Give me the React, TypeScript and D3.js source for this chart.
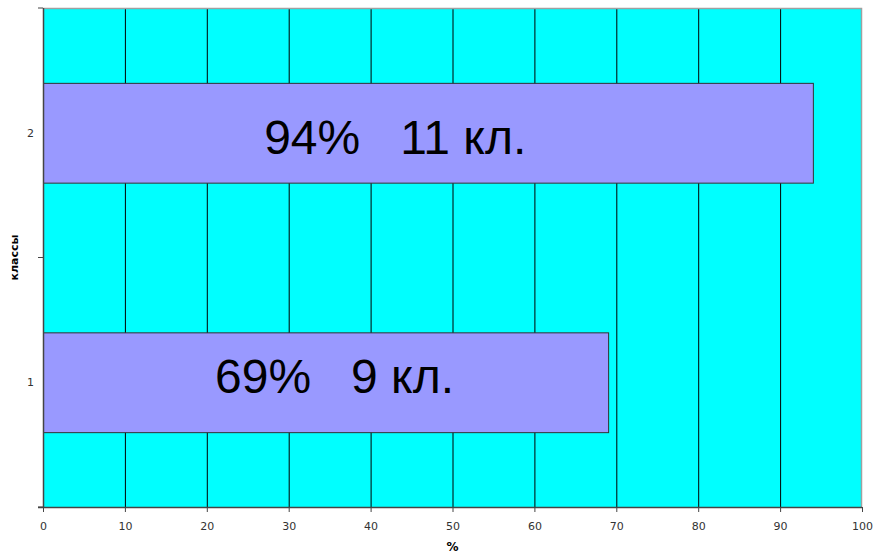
import React, { useEffect, useRef } from "react";
import * as d3 from "d3";

// categories (bottom to top) and their values in %
const categories = ["1", "2"];
const values = [69, 94];
const labels = ["69%   9 кл.", "94%   11 кл."];
const xTicks = [0, 10, 20, 30, 40, 50, 60, 70, 80, 90, 100];

const width = 873;
const height = 553;
const margin = { top: 8, right: 11, bottom: 46, left: 43 };

const App = (): JSX.Element => {
    const svgRef = useRef<SVGSVGElement>(null);

    useEffect(() => {
        const svg = d3.select(svgRef.current);
        svg.selectAll("*").remove();

        const innerW = width - margin.left - margin.right;
        const innerH = height - margin.top - margin.bottom;

        const x = d3.scaleLinear().domain([0, 100]).range([0, innerW]);
        const y = d3.scaleBand<string>()
            .domain(categories.slice().reverse())
            .range([0, innerH])
            .paddingInner(0.6)
            .paddingOuter(0.3);

        const g = svg.append("g")
            .attr("transform", `translate(${margin.left},${margin.top})`);

        // plot background
        g.append("rect")
            .attr("width", innerW)
            .attr("height", innerH)
            .attr("fill", "#00ffff");

        // vertical gridlines
        g.append("g")
            .selectAll("line")
            .data(xTicks.slice(1, -1))
            .join("line")
            .attr("x1", (d) => x(d) + 0.5)
            .attr("x2", (d) => x(d) + 0.5)
            .attr("y1", 0)
            .attr("y2", innerH)
            .attr("stroke", "#000")
            .attr("stroke-width", 1);

        // top / right frame
        g.append("path")
            .attr("d", `M0,0.5H${innerW - 0.5}V${innerH}`)
            .attr("fill", "none")
            .attr("stroke", "#a0a0a0")
            .attr("stroke-width", 1.5);

        // bars
        g.append("g")
            .selectAll("rect")
            .data(values)
            .join("rect")
            .attr("x", 0.5)
            .attr("y", (_, i) => (y(categories[i]) ?? 0) + 0.5)
            .attr("width", (d) => x(d))
            .attr("height", y.bandwidth())
            .attr("fill", "#9999ff")
            .attr("stroke", "#333")
            .attr("stroke-width", 1);

        // labels inside bars
        const labelStart = [21, 27];
        const labelDy = [10.5, 21];
        g.append("g")
            .selectAll("text")
            .data(labels)
            .join("text")
            .attr("x", (_, i) => x(labelStart[i]))
            .attr("y", (_, i) => (y(categories[i]) ?? 0) + y.bandwidth() / 2 + labelDy[i])
            .attr("font-family", "Liberation Sans, Arial, sans-serif")
            .attr("font-size", 48)
            .attr("fill", "#000")
            .style("white-space", "pre")
            .text((d) => d);

        // x axis
        const xAxis = g.append("g")
            .attr("transform", `translate(0,${innerH})`)
            .call(d3.axisBottom(x).tickValues(xTicks).tickSize(5).tickPadding(10));
        xAxis.select(".domain").attr("stroke", "#444").attr("stroke-width", 1.5)
            .attr("d", `M-5,0.5H${innerW}`);
        xAxis.selectAll(".tick line").attr("stroke", "#444");
        xAxis.selectAll(".tick text")
            .attr("font-family", "DejaVu Sans, Verdana, sans-serif")
            .attr("font-size", 11)
            .attr("fill", "#333");

        // y axis: ticks at category boundaries
        const yAxisG = g.append("g");
        yAxisG.append("line")
            .attr("x1", 0.5).attr("x2", 0.5)
            .attr("y1", 0).attr("y2", innerH)
            .attr("stroke", "#444").attr("stroke-width", 1.5);
        const bounds = [0, innerH / 2, innerH];
        yAxisG.selectAll("line.tick")
            .data(bounds)
            .join("line")
            .attr("class", "tick")
            .attr("x1", -5).attr("x2", 0)
            .attr("y1", (d) => d).attr("y2", (d) => d)
            .attr("stroke", "#444");
        yAxisG.selectAll("text")
            .data(categories)
            .join("text")
            .attr("x", -9)
            .attr("y", (d) => (y(d) ?? 0) + y.bandwidth() / 2)
            .attr("dy", "0.35em")
            .attr("text-anchor", "end")
            .attr("font-family", "DejaVu Sans, Verdana, sans-serif")
            .attr("font-size", 11)
            .attr("fill", "#333")
            .text((d) => d);

        // axis titles
        svg.append("text")
            .attr("x", margin.left + innerW / 2)
            .attr("y", 551)
            .attr("text-anchor", "middle")
            .attr("font-family", "DejaVu Sans, Verdana, sans-serif")
            .attr("font-size", 12)
            .attr("font-weight", "bold")
            .text("%");

        svg.append("text")
            .attr("transform", `translate(18,${margin.top + innerH / 2}) rotate(-90)`)
            .attr("text-anchor", "middle")
            .attr("font-family", "DejaVu Sans, Verdana, sans-serif")
            .attr("font-size", 11)
            .attr("font-weight", "bold")
            .text("классы");
    }, []);

    return (
        <svg
            ref={svgRef}
            width={width}
            height={height}
            style={{ position: "absolute", left: 0, top: 0, background: "#fff" }}
        />
    );
};

export default App;
